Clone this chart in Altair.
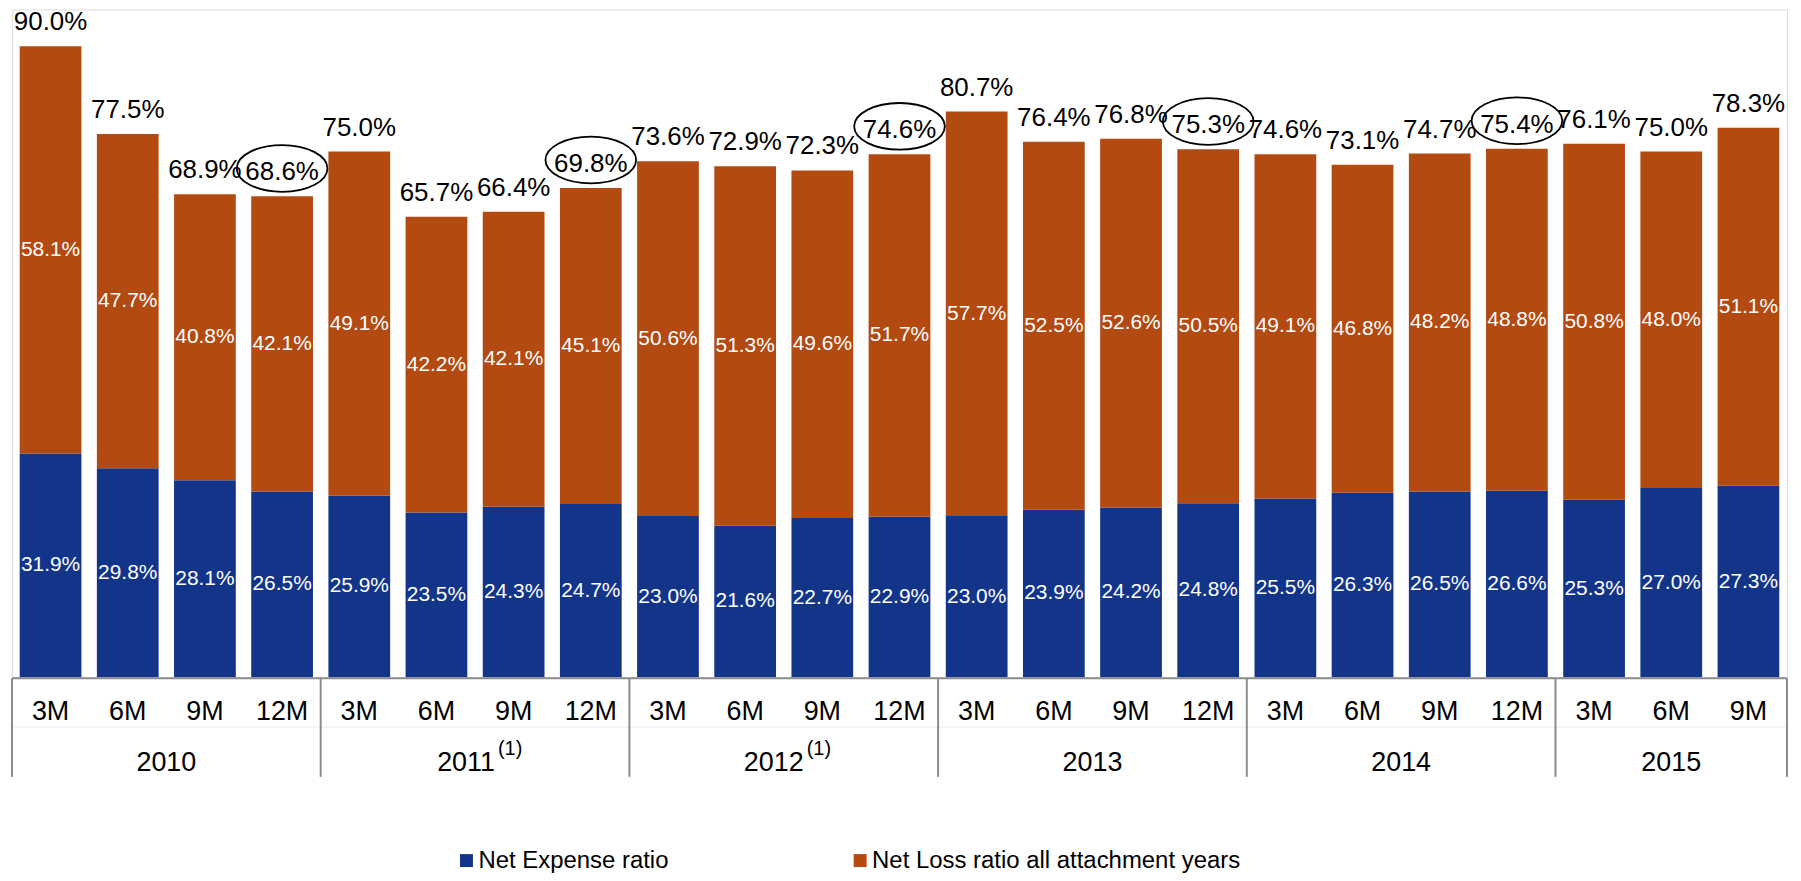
import altair as alt
import pandas as pd

# ---------------- data ----------------
periods = ["3M", "6M", "9M", "12M"] * 5 + ["3M", "6M", "9M"]
years = ["2010"] * 4 + ["2011"] * 4 + ["2012"] * 4 + ["2013"] * 4 + ["2014"] * 4 + ["2015"] * 3
expense = [31.9, 29.8, 28.1, 26.5, 25.9, 23.5, 24.3, 24.7, 23.0, 21.6, 22.7, 22.9,
           23.0, 23.9, 24.2, 24.8, 25.5, 26.3, 26.5, 26.6, 25.3, 27.0, 27.3]
loss = [58.1, 47.7, 40.8, 42.1, 49.1, 42.2, 42.1, 45.1, 50.6, 51.3, 49.6, 51.7,
        57.7, 52.5, 52.6, 50.5, 49.1, 46.8, 48.2, 48.8, 50.8, 48.0, 51.1]
total = [90.0, 77.5, 68.9, 68.6, 75.0, 65.7, 66.4, 69.8, 73.6, 72.9, 72.3, 74.6,
         80.7, 76.4, 76.8, 75.3, 74.6, 73.1, 74.7, 75.4, 76.1, 75.0, 78.3]
circled_periods = ["12M"]
year_notes = {"2011": "(1)", "2012": "(1)"}
series_names = ["Net Expense ratio", "Net Loss ratio all attachment years"]
series_colors = ["#12358A", "#B24A12"]

FONT = "Liberation Sans"
AXIS_GRAY = "#8c8c8c"
W, H = 1781, 670

# ---------------- tables ----------------
n = len(periods)
rows = []
for i in range(n):
    rows.append(dict(idx=i, series=series_names[0], start=0.0, end=expense[i],
                     mid=expense[i] / 2, label=f"{expense[i]:.1f}%"))
    rows.append(dict(idx=i, series=series_names[1], start=expense[i],
                     end=expense[i] + loss[i], mid=expense[i] + loss[i] / 2,
                     label=f"{loss[i]:.1f}%"))
bars_df = pd.DataFrame(rows)

tot_df = pd.DataFrame(dict(idx=list(range(n)),
                           top=[e + l for e, l in zip(expense, loss)],
                           label=[f"{t:.1f}%" for t in total],
                           period=periods, year=years))
tot_df["circled"] = tot_df["period"].isin(circled_periods)

year_order = list(dict.fromkeys(years))
yr_rows, bounds = [], [-0.5]
for y in year_order:
    ids = [i for i in range(n) if years[i] == y]
    yr_rows.append(dict(year=y, center=sum(ids) / len(ids), note=year_notes.get(y, "")))
    bounds.append(max(ids) + 0.5)
yr_df = pd.DataFrame(yr_rows)
b_df = pd.DataFrame(dict(b=bounds))
line_df = pd.DataFrame(dict(x0=[bounds[0]], x1=[bounds[-1]]))

xs = alt.Scale(domain=[bounds[0], bounds[-1]], nice=False, zero=False)
ys = alt.Scale(domain=[0, 95.26], nice=False, zero=False)

# ---------------- layers ----------------
bars = alt.Chart(bars_df).transform_calculate(
    x0="datum.idx - 0.4", x1="datum.idx + 0.4"
).mark_bar().encode(
    x=alt.X("x0:Q", scale=xs, axis=None),
    x2="x1:Q",
    y=alt.Y("start:Q", scale=ys, axis=None),
    y2="end:Q",
    color=alt.Color("series:N",
                    scale=alt.Scale(domain=series_names, range=series_colors),
                    legend=alt.Legend(orient="none", legendX=444, legendY=842,
                                      direction="horizontal", title=None,
                                      symbolType="square", symbolSize=169,
                                      symbolStrokeWidth=0, labelFontSize=24,
                                      labelFont=FONT, labelColor="#000000",
                                      labelLimit=600, labelOffset=0,
                                      columnPadding=180, padding=0)),
    order=alt.Order("start:Q"),
)

inner = alt.Chart(bars_df).mark_text(color="white", fontSize=21, font=FONT,
                                     baseline="middle").encode(
    x=alt.X("idx:Q", scale=xs), y=alt.Y("mid:Q", scale=ys), text="label:N")

tops = alt.Chart(tot_df).mark_text(color="#000000", fontSize=26, font=FONT,
                                   baseline="alphabetic", dy=-16).encode(
    x=alt.X("idx:Q", scale=xs), y=alt.Y("top:Q", scale=ys), text="label:N")

k = 0.5523
ry = 0.515
ellipse_path = (f"M -1 0 C -1 {-k*ry:.4f} {-k:.4f} {-ry} 0 {-ry} "
                f"C {k:.4f} {-ry} 1 {-k*ry:.4f} 1 0 "
                f"C 1 {k*ry:.4f} {k:.4f} {ry} 0 {ry} "
                f"C {-k:.4f} {ry} -1 {k*ry:.4f} -1 0 Z")
rings = alt.Chart(tot_df).transform_filter("datum.circled").mark_point(
    shape=ellipse_path, filled=False, stroke="#000000", strokeWidth=1.8,
    size=91 * 91, yOffset=-28, opacity=1).encode(
    x=alt.X("idx:Q", scale=xs), y=alt.Y("top:Q", scale=ys))

axis_line = alt.Chart(line_df).mark_rule(color=AXIS_GRAY, strokeWidth=2).encode(
    x=alt.X("x0:Q", scale=xs), x2="x1:Q", y=alt.value(H + 1))
faint_line = alt.Chart(line_df).mark_rule(color="#ececec", strokeWidth=1).encode(
    x=alt.X("x0:Q", scale=xs), x2="x1:Q", y=alt.value(H + 50))
seps = alt.Chart(b_df).mark_rule(color=AXIS_GRAY, strokeWidth=2).encode(
    x=alt.X("b:Q", scale=xs), y=alt.value(H + 1), y2=alt.value(H + 100))

months = alt.Chart(tot_df).mark_text(color="#000000", fontSize=27, font=FONT,
                                     baseline="alphabetic").encode(
    x=alt.X("idx:Q", scale=xs), y=alt.value(H + 43), text="period:N")

yr_plain = alt.Chart(yr_df).transform_filter("datum.note == ''").mark_text(
    color="#000000", fontSize=27, font=FONT, baseline="alphabetic").encode(
    x=alt.X("center:Q", scale=xs), y=alt.value(H + 94), text="year:N")
yr_noted = alt.Chart(yr_df).transform_filter("datum.note != ''").mark_text(
    color="#000000", fontSize=27, font=FONT, baseline="alphabetic",
    align="right", dx=20).encode(
    x=alt.X("center:Q", scale=xs), y=alt.value(H + 94), text="year:N")
yr_sup = alt.Chart(yr_df).transform_filter("datum.note != ''").mark_text(
    color="#000000", fontSize=20, font=FONT, baseline="alphabetic",
    align="left", dx=23).encode(
    x=alt.X("center:Q", scale=xs), y=alt.value(H + 78), text="note:N")

chart = alt.layer(
    bars, inner, tops, rings, faint_line, axis_line, seps, months,
    yr_plain, yr_noted, yr_sup
).properties(
    width=W, height=H,
    padding={"left": 4, "top": 0, "right": 6, "bottom": 195},
    autosize=alt.AutoSizeParams(type="none"),
).configure_view(stroke=None).configure(background="white")

chart.save("out.html", embed_options={"renderer": "svg", "actions": False})
